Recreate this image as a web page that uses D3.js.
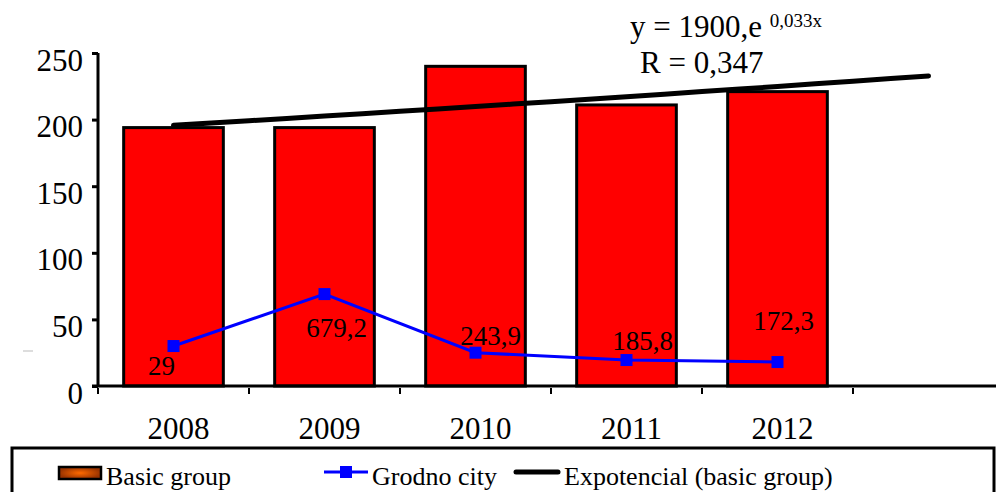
<!DOCTYPE html>
<html lang="en">
<head>
    <meta charset="UTF-8">
    <title>Basic group vs Grodno city</title>
    <script src="https://cdn.jsdelivr.net/npm/d3@7"></script>
    <style>
        body { margin: 0; background: #fff; }
        text { font-family: "Liberation Serif", "Times New Roman", serif; fill: #000; }
    </style>
</head>
<body>
<script type="application/javascript">

    // data
    let years = ['2008', '2009', '2010', '2011', '2012'];
    let basicGroup = [194, 194, 240, 211, 221];
    let grodnoCity = [30, 69, 25, 19.5, 18];
    let grodnoLabels = ['29', '679,2', '243,9', '185,8', '172,3'];
    let yTicks = [0, 50, 100, 150, 200, 250];
    let forecast = 1; // trend runs one period past the data

    let w = 996, h = 492;
    let axisLeftX = 98, axisBottomY = 386, axisTopY = 53;

    let svg = d3.select('body')
        .append('svg')
        .attr('width', w)
        .attr('height', h);

    let slots = d3.range(years.length + forecast);

    let x = d3.scaleBand()
        .domain(slots)
        .range([axisLeftX, axisLeftX + 151 * slots.length])
        .paddingInner(0.34)
        .paddingOuter(0.17);

    let y = d3.scaleLinear()
        .domain([0, 250])
        .range([axisBottomY, axisTopY]);

    let cx = i => x(i) + x.bandwidth() / 2;

    // bars
    svg.selectAll('rect.bar')
        .data(basicGroup)
        .enter()
        .append('rect')
        .attr('class', 'bar')
        .attr('x', (d, i) => x(i))
        .attr('y', d => y(d))
        .attr('width', x.bandwidth())
        .attr('height', d => y(0) - y(d))
        .attr('fill', '#ff0000')
        .attr('stroke', '#000')
        .attr('stroke-width', 3);

    // exponential trend fitted on the bars (least squares on ln y)
    let xs = basicGroup.map((d, i) => i + 1);
    let ls = basicGroup.map(d => Math.log(d));
    let mx = d3.mean(xs), ml = d3.mean(ls);
    let b = d3.sum(xs, (v, i) => (v - mx) * (ls[i] - ml)) / d3.sum(xs, v => (v - mx) * (v - mx));
    let a = Math.exp(ml - b * mx);

    let trendX = d3.scaleLinear().domain([1, slots.length]).range([cx(0), cx(slots.length - 1)]);
    let trendPts = d3.range(1, slots.length + 0.001, 0.25);

    svg.append('path')
        .attr('d', d3.line().x(t => trendX(t)).y(t => y(a * Math.exp(b * t)) + 2)(trendPts))
        .attr('fill', 'none')
        .attr('stroke', '#000')
        .attr('stroke-width', 5)
        .attr('stroke-linecap', 'round');

    // axes
    let yAxis = svg.append('g')
        .attr('transform', 'translate(' + axisLeftX + ',0)')
        .call(d3.axisLeft(y).tickValues(yTicks).tickSize(6).tickPadding(9));
    yAxis.select('.domain').attr('stroke-width', 3).attr('d', 'M0,' + axisTopY + 'V' + axisBottomY);
    yAxis.selectAll('.tick line').attr('stroke-width', 3);
    yAxis.selectAll('.tick text')
        .attr('font-size', 31)
        .attr('dy', '0.55em');

    svg.append('line')
        .attr('x1', axisLeftX - 6).attr('x2', w)
        .attr('y1', axisBottomY).attr('y2', axisBottomY)
        .attr('stroke', '#000')
        .attr('stroke-width', 3);

    // boundary ticks under the x axis
    svg.selectAll('line.xtick')
        .data(slots)
        .enter()
        .append('line')
        .attr('class', 'xtick')
        .attr('x1', i => x(i) - x.step() * x.paddingInner() / 2)
        .attr('x2', i => x(i) - x.step() * x.paddingInner() / 2)
        .attr('y1', axisBottomY + 2)
        .attr('y2', axisBottomY + 8)
        .attr('stroke', '#000')
        .attr('stroke-width', 2);

    svg.selectAll('text.year')
        .data(years)
        .enter()
        .append('text')
        .attr('class', 'year')
        .attr('x', (d, i) => cx(i) + 5)
        .attr('y', 439)
        .attr('text-anchor', 'middle')
        .attr('font-size', 31)
        .text(d => d);

    // Grodno city line
    svg.append('path')
        .attr('d', d3.line().x((d, i) => cx(i)).y(d => y(d))(grodnoCity))
        .attr('fill', 'none')
        .attr('stroke', '#0000ff')
        .attr('stroke-width', 3);

    svg.selectAll('rect.pt')
        .data(grodnoCity)
        .enter()
        .append('rect')
        .attr('class', 'pt')
        .attr('x', (d, i) => cx(i) - 6)
        .attr('y', d => y(d) - 6)
        .attr('width', 12)
        .attr('height', 12)
        .attr('fill', '#0000ff');

    // label placement as in the original chart
    let labelNudge = [[-12, 29], [12, 43], [15, -8], [16, -10], [6, -32]];

    svg.selectAll('text.lbl')
        .data(grodnoLabels)
        .enter()
        .append('text')
        .attr('class', 'lbl')
        .attr('x', (d, i) => cx(i) + labelNudge[i][0])
        .attr('y', (d, i) => y(grodnoCity[i]) + labelNudge[i][1])
        .attr('text-anchor', 'middle')
        .attr('font-size', 27)
        .text(d => d);

    // trend equation
    let eq = svg.append('text').attr('x', 630).attr('y', 37).attr('font-size', 31);
    eq.append('tspan').text('y = 1900,e ');
    eq.append('tspan').attr('font-size', 19).attr('dy', -10).text('0,033x');
    svg.append('text').attr('x', 640).attr('y', 73).attr('font-size', 31).text('R = 0,347');

    // stray mark on the left
    svg.append('line')
        .attr('x1', 23).attr('x2', 33).attr('y1', 351).attr('y2', 351)
        .attr('stroke', '#bbb').attr('stroke-width', 1);

    // legend
    let defs = svg.append('defs');
    let grad = defs.append('radialGradient').attr('id', 'swatch');
    grad.append('stop').attr('offset', '0%').attr('stop-color', '#ff6a00');
    grad.append('stop').attr('offset', '100%').attr('stop-color', '#9a3300');

    svg.append('rect')
        .attr('x', 12).attr('y', 448)
        .attr('width', 982).attr('height', 70)
        .attr('fill', '#fff')
        .attr('stroke', '#000')
        .attr('stroke-width', 3);

    let lg = svg.append('g');
    lg.append('rect')
        .attr('x', 59).attr('y', 467).attr('width', 42).attr('height', 12)
        .attr('fill', 'url(#swatch)').attr('stroke', '#000').attr('stroke-width', 2.5);
    lg.append('text').attr('x', 106).attr('y', 485).attr('font-size', 26).text('Basic group');

    lg.append('line')
        .attr('x1', 324).attr('x2', 368).attr('y1', 472).attr('y2', 472)
        .attr('stroke', '#0000ff').attr('stroke-width', 3);
    lg.append('rect')
        .attr('x', 340).attr('y', 466).attr('width', 12).attr('height', 12)
        .attr('fill', '#0000ff');
    lg.append('text').attr('x', 372).attr('y', 485).attr('font-size', 26).text('Grodno city');

    lg.append('line')
        .attr('x1', 516).attr('x2', 558).attr('y1', 472).attr('y2', 472)
        .attr('stroke', '#000').attr('stroke-width', 5).attr('stroke-linecap', 'round');
    lg.append('text').attr('x', 564).attr('y', 485).attr('font-size', 26).text('Expotencial (basic group)');

</script>
</body>
</html>
